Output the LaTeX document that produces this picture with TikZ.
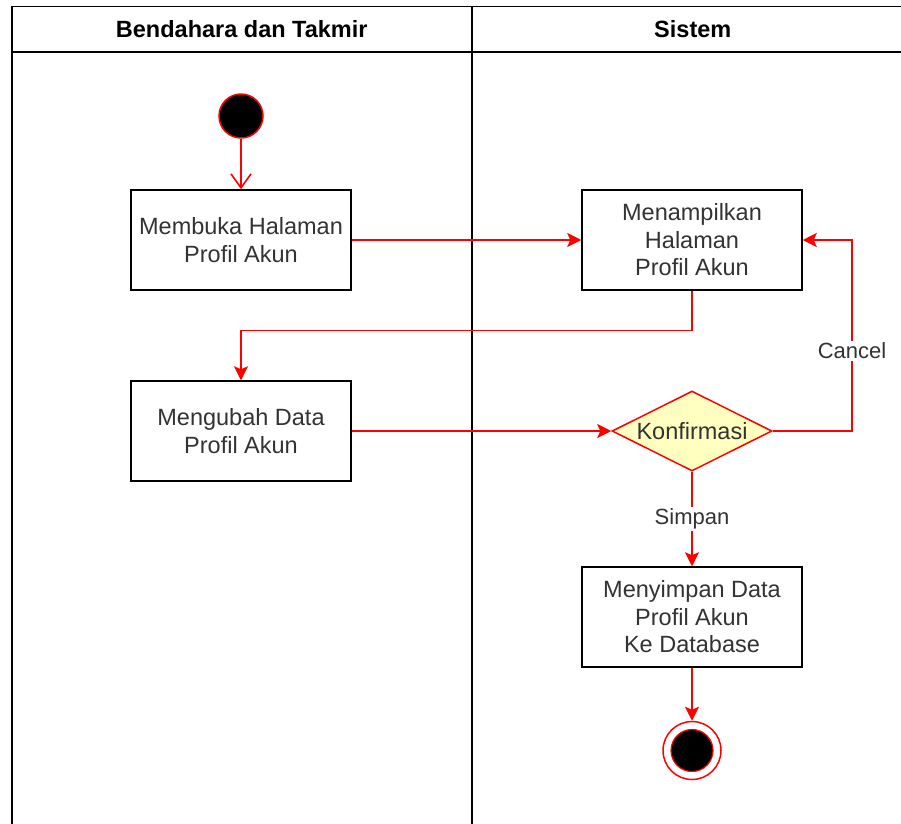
\documentclass[tikz,border=0pt]{standalone}
\usepackage{fontspec}
\setmainfont{Liberation Sans}
\usetikzlibrary{arrows.meta,shapes.geometric}
\definecolor{txtgray}{HTML}{333333}
\definecolor{flowred}{HTML}{FF0000}
\definecolor{decfill}{HTML}{FFFFC0}
\tikzset{
  lanehead/.style={draw=black, line width=1.5pt, minimum height=46pt, anchor=north west, inner sep=0pt, font=\fontsize{23.5}{28}\selectfont\bfseries, text=black},
  lanebody/.style={draw=black, line width=1.5pt, minimum height=800pt, anchor=north west, inner sep=0pt},
  actbox/.style={draw=black, line width=1.5pt, fill=white, minimum width=220pt, minimum height=100pt, inner sep=0pt, align=center, text=txtgray, font=\fontsize{23.5}{27.5}\selectfont},
  flow/.style={draw=flowred, line width=1.6pt, -{Stealth[length=14pt,width=14pt,inset=3pt]}},
  openflow/.style={draw=flowred, line width=1.6pt, -{Straight Barb[length=14pt,width=20pt,line width=1.6pt]}},
  lbl/.style={fill=white, text=txtgray, inner sep=2pt, font=\fontsize{22}{26}\selectfont},
}
\begin{document}
\begin{tikzpicture}[x=1pt,y=-1pt]
\useasboundingbox (0,0) rectangle (901,823);
\clip (0,0) rectangle (901,823);
% swimlanes
\node[lanebody, minimum width=460pt] (body1) at (11,51) {};
\node[lanebody, minimum width=442pt] (body2) at (471,51) {};
\node[lanehead, minimum width=460pt] (head1) at (11,5.5) {Bendahara dan Takmir};
\node[lanehead, minimum width=442pt] (head2) at (471,5.5) {Sistem};
% start
\node[circle, fill=black, draw=flowred, line width=1.5pt, minimum size=44pt, inner sep=0pt] (start) at (241,116) {};
% activities
\node[actbox] (box1) at (241,240) {Membuka Halaman\\Profil Akun};
\node[actbox] (box2) at (692,240) {Menampilkan\\Halaman\\Profil Akun};
\node[actbox] (box3) at (241,431) {Mengubah Data\\Profil Akun};
\node[diamond, draw=flowred, line width=1.5pt, fill=decfill, minimum width=160pt, minimum height=80pt, inner sep=0pt, text=txtgray, font=\fontsize{23.5}{28}\selectfont] (dec) at (692,431) {\makebox[0pt]{Konfirmasi}};
\node[actbox] (box4) at (692,617) {Menyimpan Data\\Profil Akun\\Ke Database};
% end
\node[circle, fill=white, draw=flowred, line width=1.5pt, minimum size=58pt, inner sep=0pt] (endo) at (692,750.5) {};
\node[circle, fill=black, draw=flowred, line width=1.2pt, minimum size=42pt, inner sep=0pt] (endi) at (endo.center) {};
% connectors
\coordinate (bendy) at (0,330.5);
\coordinate (cancelx) at (852,0);
\draw[openflow] (start) -- (box1.north);
\draw[flow] (box1.east) -- (box2.west);
\draw[flow] (box2.south) -- (box2.south |- bendy) -- (box3.north |- bendy) -- (box3.north);
\draw[flow] (box3.east) -- (dec.west);
\draw[flow] (dec.east) -- (dec.east -| cancelx) -- node[lbl, pos=0.42] {Cancel} (box2.east -| cancelx) -- (box2.east);
\draw[flow] (dec.south) -- node[lbl] {Simpan} (box4.north);
\draw[flow] (box4.south) -- (endo.north);
\end{tikzpicture}
\end{document}
